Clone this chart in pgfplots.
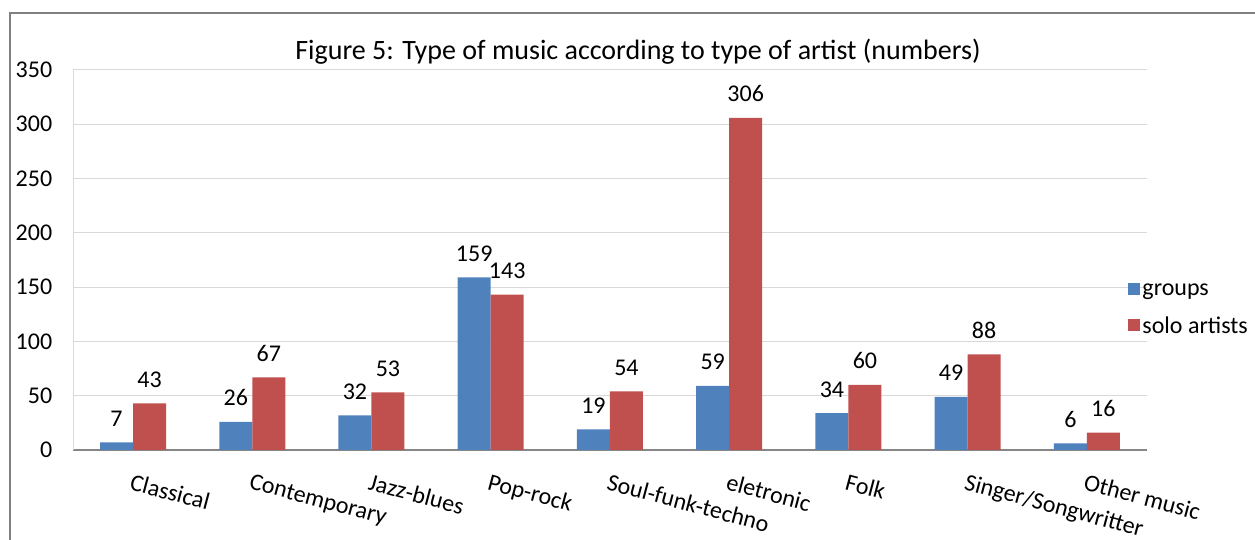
\documentclass[border=0pt]{standalone}
\usepackage{pgfplots}
\pgfplotsset{compat=1.18}
\usepackage{fontspec}
\setmainfont{Carlito}
\definecolor{grp}{RGB}{79,129,189}
\definecolor{solo}{RGB}{192,80,77}
\definecolor{gridc}{RGB}{217,217,217}
\definecolor{axc}{RGB}{134,134,134}
\definecolor{framec}{RGB}{128,128,128}
\newcommand{\lblfont}{\fontsize{24}{28}\selectfont}
\begin{document}
\begin{tikzpicture}[x=1pt,y=1pt]
\path[use as bounding box] (0,0) rectangle (1255,540);
\draw[framec, line width=2pt] (10,-20) rectangle (1290,527);
\node[font=\fontsize{28}{33}\selectfont] at (638,488) {Figure 5: Type of music according to type of artist (numbers)};
\begin{axis}[
  at={(73.4pt,90pt)}, anchor=south west,
  scale only axis, width=1073.2pt, height=380pt,
  ymin=0, ymax=350, xmin=-0.5, xmax=8.5,
  enlargelimits=false,
  ybar=0pt, bar width=33pt,
  xtick={0,...,8},
  xticklabels={Classical,Contemporary,Jazz-blues,Pop-rock,Soul-funk-techno,eletronic,Folk,Singer/Songwritter,Other music},
  ytick={0,50,...,350},
  ymajorgrids, major grid style={gridc, line width=1pt},
  axis x line*=bottom, axis y line*=left,
  x axis line style={-, axc, line width=1.5pt},
  y axis line style={-, gridc, line width=1pt},
  major tick length=0pt,
  /pgf/number format/assume math mode=true,
  tick label style={font=\lblfont},
  yticklabel style={anchor=east, inner sep=0pt, xshift=-21pt},
  xticklabel style={yshift=-23pt, rotate=-15, anchor=north west, inner sep=0pt},
  nodes near coords,
  every node near coord/.append style={font=\lblfont, anchor=base, inner sep=0pt, yshift=16pt, black},
  legend style={draw=none, fill=none, at={(0.983,0.371)}, anchor=west, inner sep=0pt, row sep=16pt, font=\lblfont, nodes={inner sep=2pt}},
  legend cell align=left,
  legend image code/.code={\path[#1, draw=none] (0pt,-5pt) rectangle (12pt,7pt);},
]
\addplot[fill=grp, draw=none] coordinates {(0,7) (1,26) (2,32) (3,159) (4,19) (5,59) (6,34) (7,49) (8,6)};
\addlegendentry{groups}
\addplot[fill=solo, draw=none] coordinates {(0,43) (1,67) (2,53) (3,143) (4,54) (5,306) (6,60) (7,88) (8,16)};
\addlegendentry{solo artists}
\end{axis}
\end{tikzpicture}
\end{document}
